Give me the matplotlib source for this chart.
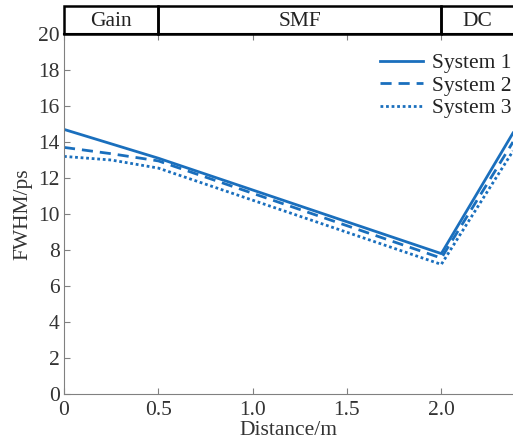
import matplotlib
matplotlib.use("Agg")
import matplotlib.pyplot as plt
from matplotlib.patches import Rectangle

plt.rcParams.update(
    {
        "font.family": "Liberation Serif",
        "font.size": 15.5,
        "xtick.direction": "in",
        "ytick.direction": "in",
    }
)

BLUE = "#1a6fbd"

distance = [0.0, 0.25, 0.5, 2.0, 2.38]
system1 = [14.7, 13.9, 13.1, 7.8, 14.5]
system2 = [13.7, 13.35, 12.95, 7.55, 14.0]
system3 = [13.2, 13.0, 12.55, 7.2, 13.5]
sections = ["Gain", "SMF", "DC"]
section_edges = [0.0, 0.5, 2.0, 2.5]

fig = plt.figure(figsize=(5.13, 4.45), dpi=100)
ax = fig.add_axes([64 / 513, 1 - 394 / 445, 1 - 64 / 513, 360 / 445])

ax.plot(distance, system1, color=BLUE, lw=2.0, ls="-", label="System 1")
ax.plot(distance, system2, color=BLUE, lw=2.0, ls=(0, (4, 2.5)), label="System 2")
ax.plot(distance, system3, color=BLUE, lw=2.0, ls=(0, (1, 1)), label="System 3")

ax.set_xlim(0, 2.38)
ax.set_ylim(0, 20)
ax.set_xticks([0, 0.5, 1.0, 1.5, 2.0])
ax.set_xticklabels(["0", "0.5", "1.0", "1.5", "2.0"])
ax.set_yticks(range(0, 21, 2))
ax.tick_params(colors="#808080", labelcolor="#333333", length=4)
ax.tick_params(axis="x", top=True, pad=5)
ax.tick_params(axis="y", pad=3)
for s in ["left", "bottom"]:
    ax.spines[s].set_color("#808080")
ax.spines["right"].set_visible(False)
ax.spines["top"].set_color("black")
ax.spines["top"].set_linewidth(1.5)
ax.set_xlabel("Distance/m", color="#333333", labelpad=1)
ax.set_ylabel("FWHM/ps", color="#333333", labelpad=4)

leg = ax.legend(loc="upper right", bbox_to_anchor=(1.015, 0.971), frameon=False,
                handlelength=2.0, handletextpad=0.4, labelspacing=0.12,
                borderaxespad=0.0, fontsize=15.5)
for t in leg.get_texts():
    t.set_color("#222222")

# section band on top
band = fig.add_axes([64 / 513, 1 - 34 / 445, 1 - 64 / 513, 28 / 445])
band.set_xlim(0, 2.38)
band.set_ylim(0, 1)
band.axis("off")
for name, x0, x1 in zip(sections, section_edges[:-1], section_edges[1:]):
    band.add_patch(Rectangle((x0, 0), x1 - x0, 1, fill=False, ec="black", lw=1.8, clip_on=False))
    band.text((x0 + min(x1, 2.38)) / 2, 0.45, name, ha="center", va="center", color="#222222", fontsize=15.5)

fig.savefig("out.png", dpi=100, facecolor="white")
